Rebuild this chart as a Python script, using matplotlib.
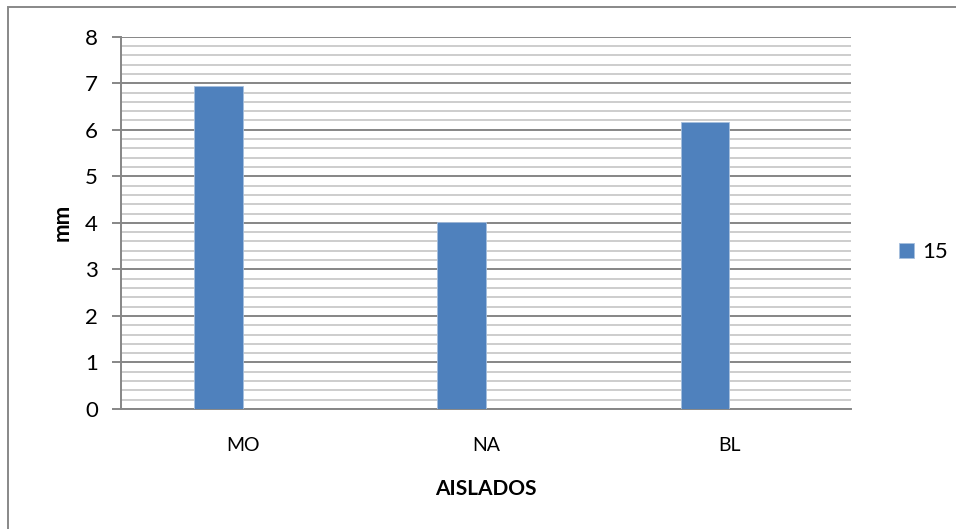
import matplotlib
matplotlib.use("Agg")
import matplotlib.pyplot as plt
import numpy as np
from matplotlib.patches import Rectangle

categories = ["MO", "NA", "BL"]
values_15 = [6.93, 4.01, 6.17]
series_name = "15"
y_ticks = [0, 1, 2, 3, 4, 5, 6, 7, 8]

plt.rcParams['font.family'] = ['Lato', 'DejaVu Sans']

fig = plt.figure(figsize=(9.56, 5.29), dpi=100)
ax = fig.add_axes([121/956, 1-409/529, (851-121)/956, (409-36.7)/529])

x = np.arange(len(categories))
bars = ax.bar(x - 0.1, values_15, width=0.2, color="#4F81BD",
              edgecolor="#A7BFDE", linewidth=0.6, zorder=3, label=series_name)

ax.set_xlim(-0.5, len(categories) - 0.5)
ax.set_ylim(0, 8)
ax.set_yticks(y_ticks)
ax.set_yticks(np.arange(0, 8.01, 0.2), minor=True)
ax.set_xticks(x)
ax.set_xticklabels(categories)

ax.grid(which="major", axis="y", color="#868686", linewidth=1.4, zorder=1)
ax.grid(which="minor", axis="y", color="#C0C0C0", linewidth=1.1, zorder=1)

for s in ["top", "right"]:
    ax.spines[s].set_visible(False)
ax.spines["left"].set_color("#868686")
ax.spines["left"].set_linewidth(1.4)
ax.spines["bottom"].set_color("#868686")
ax.spines["bottom"].set_linewidth(1.4)

ax.tick_params(axis="y", which="major", length=6.5, width=1.4, color="#868686",
               labelsize=16, pad=10)
ax.tick_params(axis="y", which="minor", length=0)
ax.tick_params(axis="x", which="both", length=0, labelsize=14, pad=20)

ax.set_ylabel("mm", fontsize=16, fontweight="bold", labelpad=9)
ax.set_xlabel("AISLADOS", fontsize=15, fontweight="bold", labelpad=18)

leg = fig.legend(handles=[bars], labels=[series_name], loc="center left",
                 bbox_to_anchor=(899/956, 1-252/529), frameon=False,
                 borderpad=0, borderaxespad=0,
                 fontsize=16, handlelength=0.68, handleheight=0.68,
                 handletextpad=0.35)

# outer chart frame
fig.patches.append(Rectangle((8/956, -0.1), 1.2, 1 - 7/529 + 0.1,
                             transform=fig.transFigure, fill=False,
                             edgecolor="#888888", linewidth=1.4))

fig.savefig("out.png", dpi=100)
